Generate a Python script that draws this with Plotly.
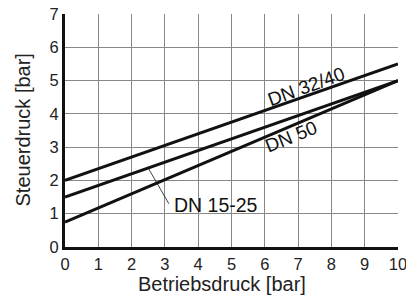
import plotly.graph_objects as go

# Data
betriebsdruck = [0, 10]
dn_32_40 = [2.0, 5.5]
dn_15_25 = [1.5, 5.0]
dn_50 = [0.75, 5.0]
x_ticks = list(range(0, 11))
y_ticks = list(range(0, 8))

FONT = "Liberation Sans, Arial, Helvetica, sans-serif"

fig = go.Figure()
for name, ys in [("DN 32/40", dn_32_40), ("DN 15-25", dn_15_25), ("DN 50", dn_50)]:
    fig.add_trace(go.Scatter(x=betriebsdruck, y=ys, mode="lines", name=name,
                             line=dict(color="#111111", width=3), showlegend=False,
                             cliponaxis=False))

# labels
fig.add_annotation(x=7.25, y=4.82, text="DN 32/40", showarrow=False, textangle=-20,
                   font=dict(family=FONT, size=19, color="#111"))
fig.add_annotation(x=6.8, y=3.33, text="DN 50", showarrow=False, textangle=-22,
                   font=dict(family=FONT, size=19, color="#111"))
fig.add_annotation(x=3.2, y=1.27, text="DN 15-25", showarrow=False,
                   xanchor="left", yanchor="middle",
                   font=dict(family=FONT, size=19.5, color="#111"))
fig.add_shape(type="line", x0=2.5, y0=2.37, x1=3.12, y1=1.3,
              line=dict(color="#111", width=0.8))

# axis titles
fig.add_annotation(xref="paper", yref="paper", x=0.47, y=0, yanchor="top", yshift=-24,
                   text="Betriebsdruck [bar]", showarrow=False,
                   font=dict(family=FONT, size=20, color="#222"))
fig.add_annotation(xref="paper", yref="paper", x=0, y=0.5, xanchor="center", xshift=-43,
                   textangle=-90, text="Steuerdruck [bar]", showarrow=False,
                   font=dict(family=FONT, size=20, color="#222"))

fig.update_xaxes(range=[0, 10], tickvals=x_ticks, showgrid=True, gridcolor="#888",
                 gridwidth=1, showline=True, linecolor="#111", linewidth=3, mirror=False,
                 ticks="", zeroline=False, ticklabeloverflow="allow", automargin=False,
                 tickfont=dict(family=FONT, size=16.5, color="#222"))
fig.update_yaxes(range=[0, 7], tickvals=y_ticks, showgrid=True, gridcolor="#888",
                 gridwidth=1, showline=True, linecolor="#111", linewidth=3,
                 ticks="", zeroline=False, ticklabeloverflow="allow", automargin=False,
                 tickfont=dict(family=FONT, size=16.5, color="#222"))

fig.update_layout(width=406, height=295, margin=dict(l=65, r=8, t=14, b=48),
                  plot_bgcolor="white", paper_bgcolor="white")

fig.write_html("out.html", config={"displayModeBar": False})

with open("out.html", "r", encoding="utf-8") as f:
    html = f.read()
html = html.replace("<head>", "<head><style>html,body{margin:0;padding:0;overflow:hidden;}</style>", 1)
with open("out.html", "w", encoding="utf-8") as f:
    f.write(html)
